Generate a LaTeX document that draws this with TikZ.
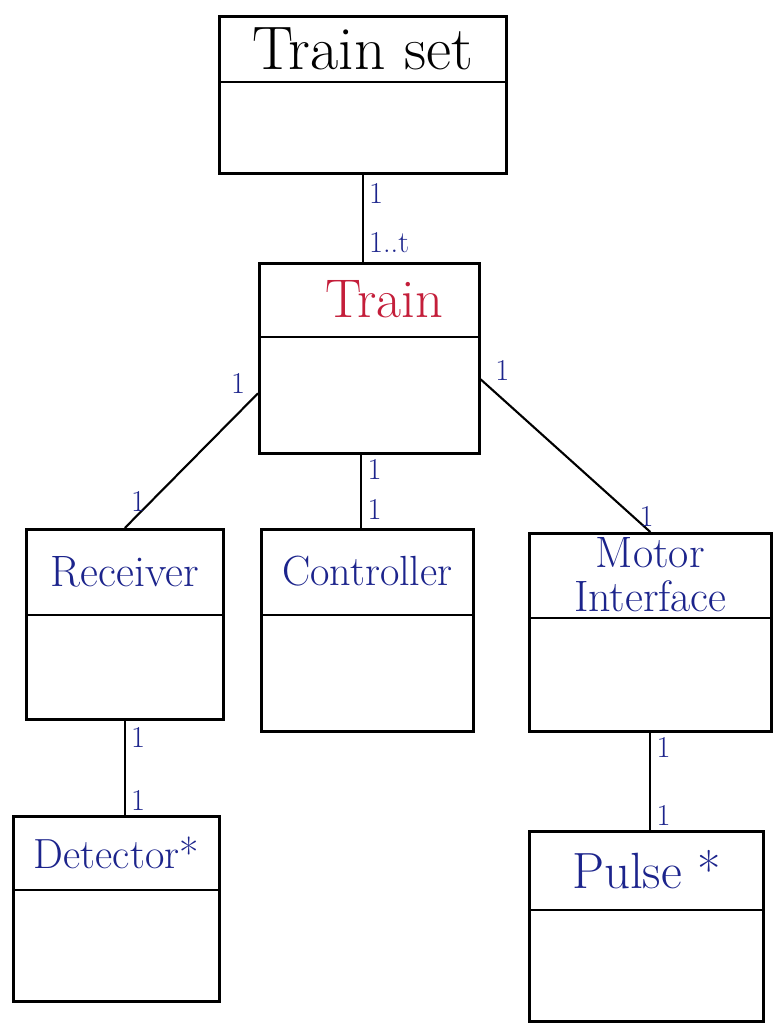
\documentclass[tikz,border=0pt]{standalone}
\usepackage{tikz}
\usetikzlibrary{positioning,calc}
\definecolor{InkBlue}{RGB}{28,36,140}
\definecolor{InkRed}{RGB}{196,30,58}
% class box: name, left, top, width, height, header height, title style, title
\newcommand{\classbox}[8]{%
  \node[classbody,minimum width=#4*0.02cm,minimum height=#5*0.02cm,anchor=north west] (#1) at (#2,#3) {};
  \draw[classbody] ($(#1.north west)+(0,#6)$) -- ($(#1.north east)+(0,#6)$);
  \node[align=center,inner sep=0pt,#7] (#1-title) at ($(#1.north)+(0,#6/2)$) {#8};}

\begin{document}
\begin{tikzpicture}[x=0.02cm,y=-0.02cm,
  classbody/.style={draw,line width=1.5pt,inner sep=0pt},
  link/.style={line width=1.2pt},
  mult/.style={text=InkBlue,font=\LARGE,inner sep=3pt},
  inktitle/.style={text=InkBlue,font=\fontsize{25}{25}\selectfont}]
  \useasboundingbox (0,0) rectangle (775,1025);
  \fill[white] (0,0) rectangle (775,1025);

  \classbox{set}{218}{15}{287}{157}{67}{font=\fontsize{35}{38}\selectfont}{Train set}
  \classbox{train}{258}{262}{220}{190}{75}{text=InkRed,font=\fontsize{31}{34}\selectfont,xshift=0.3cm}{Train}
  \classbox{recv}{25}{528}{197}{190}{87}{inktitle}{Receiver}
  \classbox{ctrl}{260}{528}{212}{202}{87}{inktitle,font=\fontsize{24}{25}\selectfont}{Controller}
  \classbox{motor}{528}{532}{242}{198}{86}{inktitle}{Motor\\Interface}
  \classbox{det}{12}{815}{206}{185}{75}{inktitle,font=\fontsize{24}{25}\selectfont}{Detector*}
  \classbox{pulse}{528}{830}{234}{190}{80}{inktitle,font=\fontsize{29}{30}\selectfont}{Pulse *}

  % associations
  \draw[link] (set.south) -- (set.south |- train.north)
    node[mult,pos=0.22,right] {1}
    node[mult,pos=0.78,right] {1..t};
  \draw[link] ([yshift=-0.7cm]train.west) -- (recv.north)
    node[mult,pos=0.05,above left] {1}
    node[mult,pos=0.8,left] {1};
  \draw[link] ([xshift=-0.16cm]train.south) -- ([xshift=-0.16cm]train.south |- ctrl.north)
    node[mult,pos=0.2,right] {1}
    node[mult,pos=0.75,right] {1};
  \draw[link] ([yshift=-0.42cm]train.east) -- (motor.north)
    node[mult,pos=0.05,above right] {1}
    node[mult,pos=0.9,right] {1};
  \draw[link] (recv.south) -- (recv.south |- det.north)
    node[mult,pos=0.18,right] {1}
    node[mult,pos=0.85,right] {1};
  \draw[link] (motor.south) -- (motor.south |- pulse.north)
    node[mult,pos=0.15,right] {1}
    node[mult,pos=0.85,right] {1};
\end{tikzpicture}
\end{document}
